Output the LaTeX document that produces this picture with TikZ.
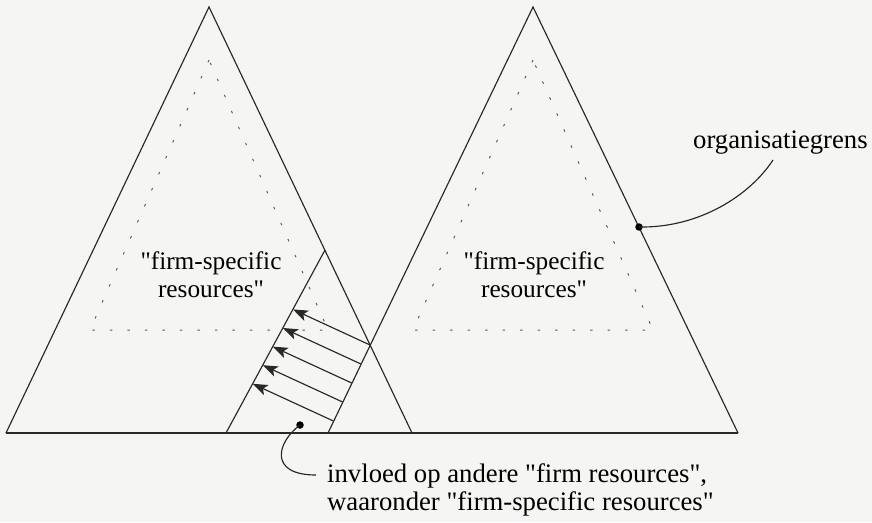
\documentclass[tikz,border=0pt]{standalone}
\usepackage{fontspec}
\setmainfont{Liberation Serif}[Ligatures=TeXOff]
\usetikzlibrary{arrows.meta}
\definecolor{paper}{RGB}{245,245,243}
\definecolor{ink}{RGB}{40,40,40}
\tikzset{
  edge/.style={draw=ink, line width=1.15pt, line join=miter},
  dotline/.style={draw=ink!75, line width=1pt, dash pattern=on 2.5pt off 15pt},
  flow/.style={draw=ink, line width=1.15pt, -{Stealth[length=15pt,width=11pt,inset=3.5pt]}},
  blob/.style={circle, fill=black, inner sep=0pt, minimum size=7.5pt},
  lbl/.style={inner sep=0pt, text=black, font=\fontsize{26.7}{27.5}\selectfont},
  innerlbl/.style={inner sep=0pt, align=center, text=black, font=\fontsize{25.3}{28}\selectfont},
}
\begin{document}
\begin{tikzpicture}[x=1pt,y=-1pt]
\fill[paper] (0,0) rectangle (872,522);
\useasboundingbox (0,0) rectangle (872,522);

% corners of the two organisations
\coordinate (LA) at (209,7);
\coordinate (LL) at (6,433);
\coordinate (LR) at (412,433);
\coordinate (RA) at (533,7);
\coordinate (RL) at (328,433);
\coordinate (RR) at (738,433);
% small triangle of influence
\coordinate (SA) at (325,250);
\coordinate (SL) at (226,433);

% inner dotted triangles
\draw[dotline] (209,60) -- (90,330) -- (328,330) -- cycle;
\draw[dotline] (533,60) -- (413,330) -- (653,330) -- cycle;

% outlines
\draw[edge] (LL) -- (LA) -- (LR);
\draw[edge] (RL) -- (RA) -- (RR);
\draw[edge] (LL) -- (RR);
\draw[edge] (SA) -- (SL);

% arrows from the right organisation into the left one
\coordinate (t0) at (370,345);   \coordinate (h0) at (292.9,309.4);
\coordinate (t1) at (360.9,364); \coordinate (h1) at (282.8,328.0);
\coordinate (t2) at (351.7,383); \coordinate (h2) at (272.7,346.6);
\coordinate (t3) at (342.6,402); \coordinate (h3) at (262.7,365.2);
\coordinate (t4) at (333.4,421); \coordinate (h4) at (252.6,383.8);
\foreach \i in {0,...,4} \draw[flow] (t\i) -- (h\i);

% texts (base anchor = baseline of the last line)
\node[innerlbl, anchor=base] (lres) at (211,297) {"firm-specific\\resources"};
\node[innerlbl, anchor=base] (rres) at (534,297) {"firm-specific\\resources"};
\node[lbl, anchor=base west] (org) at (693,148) {organisatiegrens};
\node[lbl, anchor=base west, align=left] (infl) at (327,510)
  {invloed op andere "firm resources",\\waaronder "firm-specific resources"};

% callouts
\node[blob] (d1) at (639,227) {};
\node[blob] (d2) at (300,425) {};
\coordinate (orgend) at (773,160);
\coordinate (inflend) at (316,475);
\draw[edge] (d1.center) .. controls (700,228) and (750,195) .. (orgend);
\draw[edge] (d2.center) .. controls (277,442) and (268,475) .. (inflend);
\end{tikzpicture}
\end{document}
